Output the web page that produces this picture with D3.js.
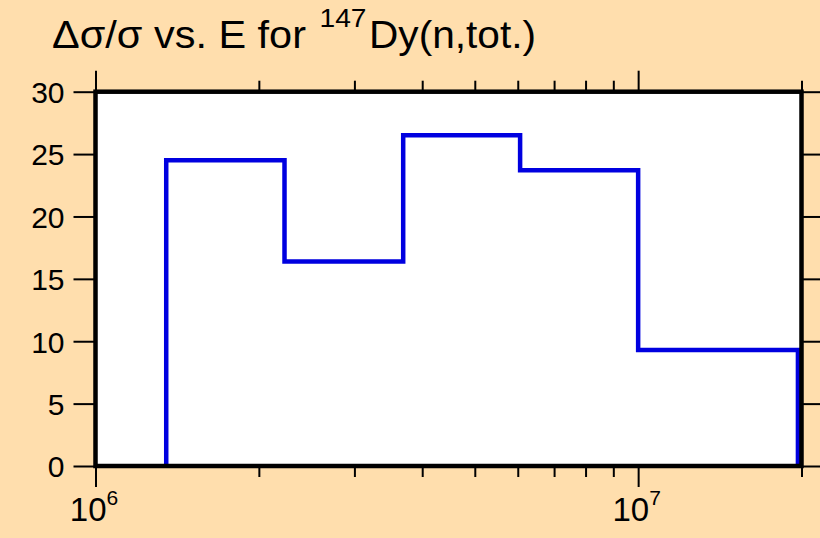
<!DOCTYPE html>
<html>
<head>
<meta charset="utf-8">
<script src="https://cdn.jsdelivr.net/npm/d3@7"></script>
<style>
html,body{margin:0;padding:0;background:#FFDEAD;}
svg{display:block;}
text{font-family:"Liberation Sans",Arial,sans-serif;fill:#000;}
</style>
</head>
<body>
<script>
// Data
const binEdges = [1.35e6, 2.23e6, 3.69e6, 6.06e6, 1.0e7, 1.97e7];
const binValues = [24.5, 16.4, 26.5, 23.7, 9.3];
const yTicks = [0, 5, 10, 15, 20, 25, 30];
const xMajorTicks = [1e6, 1e7];
const xMajorExponents = ["6", "7"];
const xMinorTicks = [2e6, 3e6, 4e6, 5e6, 6e6, 7e6, 8e6, 9e6, 2e7];
const titleMain = "Δσ/σ vs. E for";
const titleSup = "147";
const titleEnd = "Dy(n,tot.)";

const W = 820, H = 538;
const L = 95.5, R = 801.5, T = 91.7, B = 466;

const svg = d3.select("body").append("svg").attr("width", W).attr("height", H);
svg.append("rect").attr("width", W).attr("height", H).attr("fill", "#FFDEAD");

const x = d3.scaleLog().domain([1e6, 2e7]).range([L, R]);
const y = d3.scaleLinear().domain([0, 30]).range([B, T]);

// plot background
svg.append("rect").attr("x", L).attr("y", T).attr("width", R - L).attr("height", B - T).attr("fill", "#fff");

// step line
const pts = [[binEdges[0], 0]];
binValues.forEach((v, i) => { pts.push([binEdges[i], v]); pts.push([binEdges[i + 1], v]); });
pts.push([binEdges[binEdges.length - 1], 0]);
svg.append("path")
  .attr("d", d3.line().x(d => x(d[0])).y(d => y(d[1]))(pts))
  .attr("fill", "none").attr("stroke", "#0000e0").attr("stroke-width", 4.5)
  .attr("stroke-linejoin", "miter").attr("stroke-linecap", "butt");

function styleAxis(g) {
  g.select(".domain").remove();
  g.selectAll(".tick line").attr("stroke", "#000").attr("stroke-width", 2);
}

// bottom axes
svg.append("g").attr("transform", `translate(0,${B})`)
  .call(d3.axisBottom(x).tickValues(xMinorTicks).tickSize(11).tickFormat(""))
  .call(styleAxis);
const bMaj = svg.append("g").attr("transform", `translate(0,${B})`)
  .call(d3.axisBottom(x).tickValues(xMajorTicks).tickSize(21).tickFormat(""))
  .call(styleAxis);
bMaj.selectAll(".tick").each(function(d, i) {
  const t = d3.select(this).append("text")
    .attr("y", 54.5).attr("x", -2).attr("text-anchor", "middle")
    .style("font-size", "33px");
  t.append("tspan").text("10");
  t.append("tspan").attr("dy", -16).style("font-size", "21px").text(xMajorExponents[i]);
});

// top axes
svg.append("g").attr("transform", `translate(0,${T})`)
  .call(d3.axisTop(x).tickValues(xMinorTicks).tickSize(11).tickFormat(""))
  .call(styleAxis);
svg.append("g").attr("transform", `translate(0,${T})`)
  .call(d3.axisTop(x).tickValues(xMajorTicks).tickSize(21).tickFormat(""))
  .call(styleAxis);

// left axis
const lAx = svg.append("g").attr("transform", `translate(${L},0)`)
  .call(d3.axisLeft(y).tickValues(yTicks).tickSize(22).tickPadding(8))
  .call(styleAxis);
lAx.selectAll(".tick text").style("font-size", "30px").attr("dy", "0.36em").attr("x", -31);

// right axis
svg.append("g").attr("transform", `translate(${R},0)`)
  .call(d3.axisRight(y).tickValues(yTicks).tickSize(22).tickFormat(""))
  .call(styleAxis);

// frame
svg.append("rect").attr("x", L).attr("y", T).attr("width", R - L).attr("height", B - T)
  .attr("fill", "none").attr("stroke", "#000").attr("stroke-width", 4.5);

// title
svg.append("text").attr("x", 52).attr("y", 48.3).style("font-size", "38px")
  .attr("textLength", 254).attr("lengthAdjust", "spacingAndGlyphs").text(titleMain);
svg.append("text").attr("x", 319.5).attr("y", 26.5).style("font-size", "26px")
  .attr("textLength", 47).attr("lengthAdjust", "spacingAndGlyphs").text(titleSup);
svg.append("text").attr("x", 369).attr("y", 48.3).style("font-size", "39px")
  .attr("textLength", 167).attr("lengthAdjust", "spacingAndGlyphs").text(titleEnd);
</script>
</body>
</html>
